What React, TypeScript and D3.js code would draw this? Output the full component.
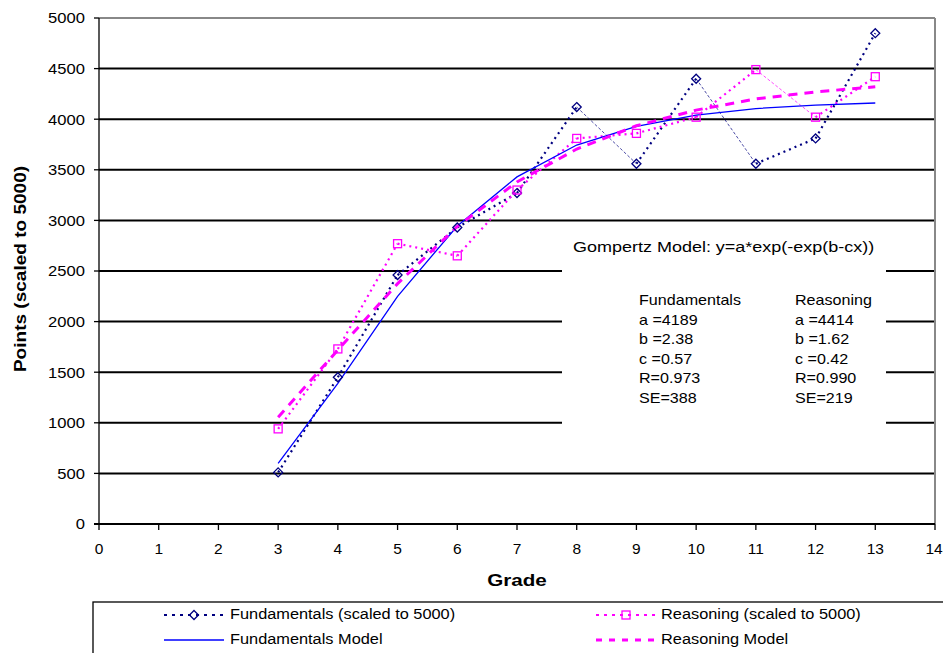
import React from "react";
import * as d3 from "d3";

// grade levels and scores (scaled to 5000)
const grades = [3, 4, 5, 6, 7, 8, 9, 10, 11, 12, 13];
const fundamentals = [510, 1450, 2460, 2930, 3270, 4120, 3560, 4400, 3560, 3810, 4850];
const reasoning = [940, 1730, 2770, 2650, 3300, 3810, 3860, 4020, 4490, 4020, 4420];
const fundamentalsModel = [600, 1390, 2250, 2945, 3430, 3745, 3930, 4040, 4105, 4140, 4160];
const reasoningModel = [1055, 1720, 2375, 2940, 3380, 3705, 3935, 4090, 4200, 4270, 4320];

const xTicks = [0, 1, 2, 3, 4, 5, 6, 7, 8, 9, 10, 11, 12, 13, 14];
const yTicks = [0, 500, 1000, 1500, 2000, 2500, 3000, 3500, 4000, 4500, 5000];

const noteTitle = "Gompertz Model: y=a*exp(-exp(b-cx))";
const noteFundamentals = ["Fundamentals", "a =4189", "b =2.38", "c =0.57", "R=0.973", "SE=388"];
const noteReasoning = ["Reasoning", "a =4414", "b =1.62", "c =0.42", "R=0.990", "SE=219"];

const FONT = "'Liberation Sans', Arial, sans-serif";
const NAVY = "#000080";
const PINK = "#FF00FF";
const BLUE = "#0000FF";

const W = 943;
const H = 653;

const x = d3.scaleLinear().domain([0, 14]).range([99, 935]);
const y = d3.scaleLinear().domain([0, 5000]).range([524, 18]);

// the original text is a bit stretched sideways, so scale it horizontally
function T(props: {
  x: number;
  y: number;
  size: number;
  anchor?: string;
  bold?: boolean;
  sx?: number;
  children: React.ReactNode;
}) {
  const { sx = 1.17 } = props;
  return (
    <text
      transform={`translate(${props.x},${props.y}) scale(${sx},1)`}
      textAnchor={props.anchor || "start"}
      dy="0.35em"
      fontSize={props.size}
      fontWeight={props.bold ? "bold" : "normal"}
    >
      {props.children}
    </text>
  );
}

// draw a data series segment by segment; steep drops come out thin like the original
function Segments({ values, color }: { values: number[]; color: string }) {
  return (
    <g>
      {values.slice(1).map((v, i) => {
        const prev = values[i];
        const steepDrop = prev - v > 300;
        return (
          <line
            key={i}
            x1={x(grades[i])}
            y1={y(prev)}
            x2={x(grades[i + 1])}
            y2={y(v)}
            stroke={color}
            strokeWidth={steepDrop ? 0.7 : 2.2}
            strokeDasharray={steepDrop ? "3,2" : "2,4"}
          />
        );
      })}
    </g>
  );
}

function Diamond({ cx, cy }: { cx: number; cy: number }) {
  const r = 4.5;
  return (
    <path
      d={`M${cx},${cy - r}L${cx + r},${cy}L${cx},${cy + r}L${cx - r},${cy}Z`}
      fill="none"
      stroke={NAVY}
      strokeWidth={1.3}
    />
  );
}

function Square({ cx, cy }: { cx: number; cy: number }) {
  const r = 4;
  return <rect x={cx - r} y={cy - r} width={2 * r} height={2 * r} fill="none" stroke={PINK} strokeWidth={1.3} />;
}

export default function App() {
  const modelLine = d3
    .line<number>()
    .x((d, i) => x(grades[i]))
    .y((d) => y(d));

  const boxX0 = 562;
  const boxX1 = 886;
  const boxY0 = 232;
  const boxY1 = 445;

  return (
    <svg
      width={W}
      height={H}
      style={{ position: "absolute", left: 0, top: 0, background: "#fff", fontFamily: FONT }}
    >
      {/* gridlines */}
      {yTicks.slice(1, -1).map((t) => (
        <line key={t} x1={x(0)} x2={x(14)} y1={y(t)} y2={y(t)} stroke="#000" strokeWidth={2} />
      ))}
      {/* plot border */}
      <line x1={x(0)} x2={x(14)} y1={y(5000)} y2={y(5000)} stroke="#888" strokeWidth={2} />
      <line x1={x(14)} x2={x(14)} y1={y(5000)} y2={y(0)} stroke="#888" strokeWidth={2} />

      {/* annotation box */}
      <rect x={boxX0} y={boxY0} width={boxX1 - boxX0} height={boxY1 - boxY0} fill="#fff" />

      {/* axes */}
      <line x1={x(0)} x2={x(0)} y1={y(5000)} y2={y(0)} stroke="#000" strokeWidth={1.3} />
      <line x1={x(0) - 5} x2={x(14)} y1={y(0)} y2={y(0)} stroke="#000" strokeWidth={2} />
      {yTicks.map((t) => (
        <g key={t}>
          <line x1={x(0) - 5} x2={x(0)} y1={y(t)} y2={y(t)} stroke="#000" strokeWidth={1.3} />
          <T x={85} y={y(t)} size={15.5} anchor="end" sx={1.07}>
            {t}
          </T>
        </g>
      ))}
      {xTicks.map((t) => (
        <g key={t}>
          <line x1={x(t)} x2={x(t)} y1={y(0)} y2={y(0) + 6} stroke="#000" strokeWidth={1.3} />
          <T x={t === 14 ? x(t) - 1 : x(t)} y={549} size={15.5} anchor="middle" sx={1.0}>
            {t}
          </T>
        </g>
      ))}
      <T x={517} y={580} size={16.5} anchor="middle" bold sx={1.25}>
        Grade
      </T>
      <text
        transform={`translate(20,${y(2500) - 2}) rotate(-90) scale(1.12,1)`}
        textAnchor="middle"
        dy="0.35em"
        fontSize={17}
        fontWeight="bold"
      >
        Points (scaled to 5000)
      </text>

      {/* series */}
      <Segments values={fundamentals} color={NAVY} />
      <Segments values={reasoning} color={PINK} />
      <path d={modelLine(fundamentalsModel) || ""} fill="none" stroke={BLUE} strokeWidth={1.3} />
      <path d={modelLine(reasoningModel) || ""} fill="none" stroke={PINK} strokeWidth={3} strokeDasharray="9,7" />
      {fundamentals.map((v, i) => (
        <Diamond key={i} cx={x(grades[i])} cy={y(v)} />
      ))}
      {reasoning.map((v, i) => (
        <Square key={i} cx={x(grades[i])} cy={y(v)} />
      ))}

      {/* annotation text */}
      <T x={573} y={247} size={15} sx={1.2}>
        {noteTitle}
      </T>
      {noteFundamentals.map((s, i) => (
        <T key={s} x={639} y={300 + i * 19.6} size={14} sx={1.15}>
          {s}
        </T>
      ))}
      {noteReasoning.map((s, i) => (
        <T key={s} x={795} y={300 + i * 19.6} size={14} sx={1.15}>
          {s}
        </T>
      ))}

      {/* legend */}
      <rect x={93} y={602} width={W} height={80} fill="#fff" stroke="#000" strokeWidth={1.3} />
      <line x1={164} x2={224} y1={615} y2={615} stroke={NAVY} strokeWidth={2.2} strokeDasharray="3,5" />
      <Diamond cx={194} cy={615} />
      <T x={230} y={614} size={15} sx={1.09}>
        Fundamentals (scaled to 5000)
      </T>
      <line x1={596} x2={656} y1={615} y2={615} stroke={PINK} strokeWidth={2.2} strokeDasharray="3,5" />
      <Square cx={626} cy={615} />
      <T x={661} y={614} size={15} sx={1.09}>
        Reasoning (scaled to 5000)
      </T>
      <line x1={164} x2={224} y1={640} y2={640} stroke={BLUE} strokeWidth={1.3} />
      <T x={230} y={639} size={15} sx={1.09}>
        Fundamentals Model
      </T>
      <line x1={596} x2={656} y1={640} y2={640} stroke={PINK} strokeWidth={3} strokeDasharray="6,7" />
      <T x={661} y={639} size={15} sx={1.09}>
        Reasoning Model
      </T>
    </svg>
  );
}
